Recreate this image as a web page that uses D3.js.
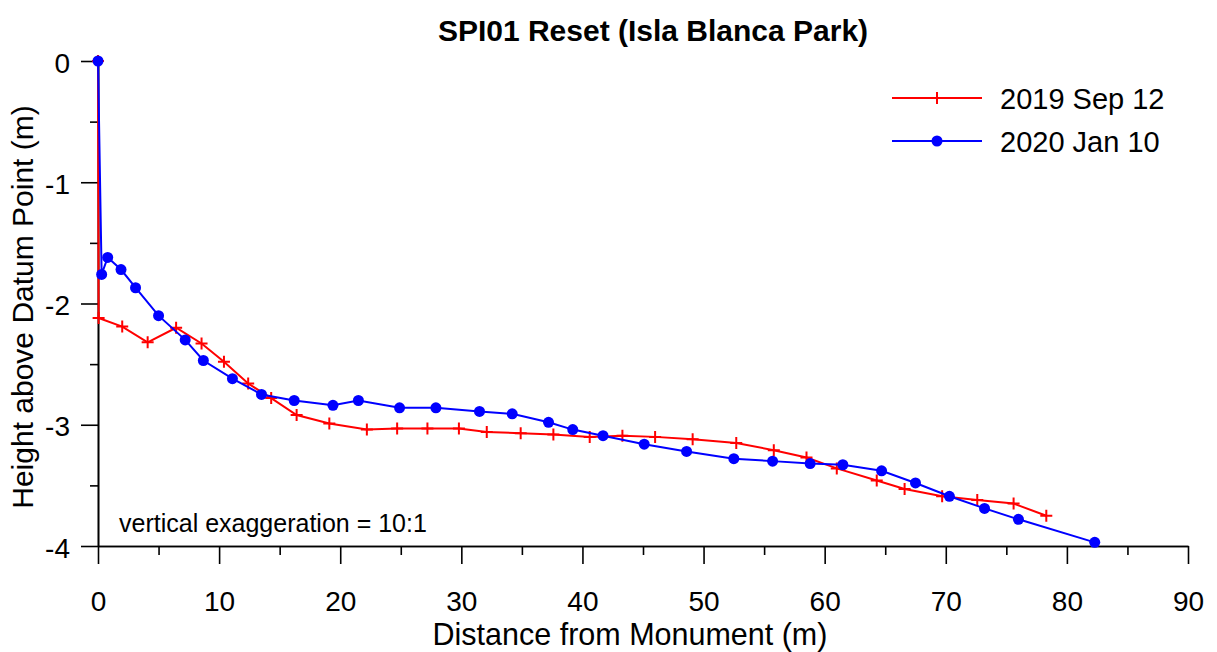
<!DOCTYPE html>
<html>
<head>
<meta charset="utf-8">
<script src="https://cdn.jsdelivr.net/npm/d3@7"></script>
<style>
  body { margin: 0; background: #fff; }
  text { font-family: Arial, "Liberation Sans", sans-serif; }
</style>
</head>
<body>
<div id="target"></div>
<script>
let width = 1217,
  height = 652

// survey 2019 Sep 12
let distSep = [0, 0.05, 2.0, 4.1, 6.45, 8.55, 10.4, 12.4, 14.3, 16.4, 19.1, 22.2, 24.7, 27.2, 29.8, 32.1,
  34.9, 37.6, 40.6, 43.3, 46.0, 49.1, 52.7, 55.8, 58.5, 61.0, 64.3, 66.6, 69.7, 72.6, 75.6, 78.3]
let heightSep = [0, -2.12, -2.19, -2.32, -2.20, -2.33, -2.48, -2.66, -2.78, -2.92, -2.99, -3.04, -3.03, -3.03, -3.03, -3.06,
  -3.07, -3.08, -3.10, -3.09, -3.10, -3.12, -3.15, -3.21, -3.27, -3.36, -3.46, -3.53, -3.59, -3.62, -3.65, -3.75]

// survey 2020 Jan 10
let distJan = [0, 0.3, 0.8, 1.9, 3.1, 5.0, 7.2, 8.7, 11.1, 13.5, 16.2, 19.4, 21.5, 24.9, 27.9, 31.5,
  34.2, 37.2, 39.2, 41.7, 45.1, 48.6, 52.5, 55.7, 58.8, 61.5, 64.7, 67.5, 70.3, 73.2, 76.0, 82.3]
let heightJan = [0, -1.76, -1.62, -1.72, -1.87, -2.10, -2.30, -2.47, -2.62, -2.75, -2.80, -2.84, -2.80, -2.86, -2.86, -2.89,
  -2.91, -2.98, -3.04, -3.09, -3.16, -3.22, -3.28, -3.30, -3.32, -3.33, -3.38, -3.48, -3.59, -3.69, -3.78, -3.97]

let xMajor = [0, 10, 20, 30, 40, 50, 60, 70, 80, 90]
let xMinor = [5, 15, 25, 35, 45, 55, 65, 75, 85]
let yMajor = [0, -1, -2, -3, -4]
let yMinor = [-0.5, -1.5, -2.5, -3.5]

let series = [
  { name: "2019 Sep 12", color: "#ff0000", marker: "plus", xs: distSep, ys: heightSep },
  { name: "2020 Jan 10", color: "#0000ff", marker: "dot", xs: distJan, ys: heightJan }
]

let svg = d3.select("#target").append("svg")
  .attr("width", width)
  .attr("height", height)

let x = d3.scaleLinear().domain([0, 90]).range([98, 1188])
let y = d3.scaleLinear().domain([-4, 0]).range([546, 61])

// minor ticks first, then major axes on top
svg.append("g")
  .attr("transform", "translate(0,546)")
  .call(d3.axisBottom(x).tickValues(xMinor).tickSize(9).tickSizeOuter(0).tickFormat(""))
svg.append("g")
  .attr("transform", "translate(98,0)")
  .call(d3.axisLeft(y).tickValues(yMinor).tickSize(8).tickSizeOuter(0).tickFormat(""))

let xAxis = svg.append("g")
  .attr("transform", "translate(0,546)")
  .call(d3.axisBottom(x).tickValues(xMajor).tickSize(18).tickSizeOuter(0).tickPadding(27)
    .tickFormat(d => String(d)))
let yAxis = svg.append("g")
  .attr("transform", "translate(98,0)")
  .call(d3.axisLeft(y).tickValues(yMajor).tickSize(17).tickSizeOuter(0).tickPadding(11)
    .tickFormat(d => String(d)))

svg.selectAll(".domain, .tick line")
  .attr("stroke", "#000")
  .attr("stroke-width", 1.6)
svg.selectAll(".tick text")
  .attr("fill", "#000")
  .style("font-size", "28px")
yAxis.selectAll(".tick text").attr("dy", "0.4em")

let line = d3.line()
  .x(d => x(d[0]))
  .y(d => y(d[1]))

function drawMarker(g, type, color) {
  if (type === "dot") {
    g.append("circle").attr("r", 5.5).attr("fill", color)
  } else {
    g.append("path").attr("d", "M-6,0H6M0,-6V6")
      .attr("stroke", color).attr("stroke-width", 2).attr("fill", "none")
  }
}

series.forEach(s => {
  let pts = s.xs.map((v, i) => [v, s.ys[i]])
  svg.append("path")
    .datum(pts)
    .attr("fill", "none")
    .attr("stroke", s.color)
    .attr("stroke-width", 2)
    .attr("d", line)
  svg.selectAll(null)
    .data(pts)
    .enter().append("g")
    .attr("transform", d => "translate(" + x(d[0]) + "," + y(d[1]) + ")")
    .each(function () { drawMarker(d3.select(this), s.marker, s.color) })
})

// legend
series.forEach((s, i) => {
  let ly = 98 + i * 43
  svg.append("line")
    .attr("x1", 892).attr("x2", 982)
    .attr("y1", ly).attr("y2", ly)
    .attr("stroke", s.color).attr("stroke-width", 2)
  let m = svg.append("g").attr("transform", "translate(937," + ly + ")")
  drawMarker(m, s.marker, s.color)
  svg.append("text")
    .attr("x", 1000).attr("y", ly + 11)
    .style("font-size", "29px")
    .text(s.name)
})

svg.append("text")
  .attr("x", 653).attr("y", 41)
  .attr("text-anchor", "middle")
  .style("font-size", "30px")
  .style("font-weight", "bold")
  .text("SPI01 Reset (Isla Blanca Park)")

svg.append("text")
  .attr("x", 630).attr("y", 645)
  .attr("text-anchor", "middle")
  .style("font-size", "30.5px")
  .text("Distance from Monument (m)")

svg.append("text")
  .attr("transform", "translate(33,307) rotate(-90)")
  .attr("text-anchor", "middle")
  .style("font-size", "30px")
  .text("Height above Datum Point (m)")

svg.append("text")
  .attr("x", 119).attr("y", 532)
  .style("font-size", "25px")
  .text("vertical exaggeration = 10:1")
</script>
</body>
</html>
